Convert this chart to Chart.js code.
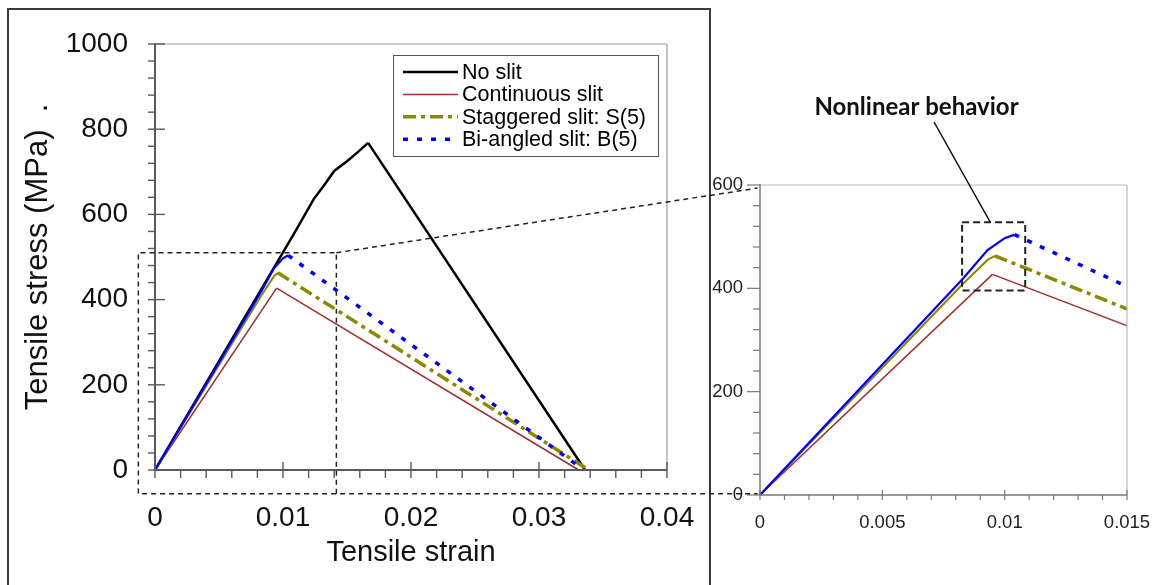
<!DOCTYPE html>
<html><head><meta charset="utf-8">
<script src="https://cdn.jsdelivr.net/npm/chart.js@4.4.1/dist/chart.umd.min.js"></script>
<style>
html,body{margin:0;padding:0;background:#fff;}
#wrap{position:relative;width:1161px;height:585px;overflow:hidden;background:#fff;}
#wrap canvas{position:absolute;}
</style></head><body>
<div id="wrap">
<canvas id="main" width="710" height="585" style="left:0;top:0"></canvas>
<canvas id="inset" width="461" height="435" style="left:700px;top:150px"></canvas>
<canvas id="overlay" width="1161" height="585" style="left:0;top:0"></canvas>
</div>
<script>
// ---------- data ----------
const seriesNames = ['No slit', 'Continuous slit', 'Staggered slit: S(5)', 'Bi-angled slit: B(5)'];
const strainNoSlit = [0, 0.0100, 0.0111, 0.0124, 0.0132, 0.0140, 0.0150, 0.0158, 0.01665, 0.0336];
const stressNoSlit = [0, 511, 567, 636, 668, 702, 725, 745, 768, 0];
const strainContinuous = [0, 0.0095, 0.0331];
const stressContinuous = [0, 427, 0];
const strainStaggered = [0, 0.0083, 0.0093, 0.0096, 0.0339];
const stressStaggered = [0, 409, 455, 463, 0];
const strainBiAngled = [0, 0.0083, 0.0093, 0.0100, 0.0104, 0.0335];
const stressBiAngled = [0, 419, 474, 497, 504, 0];

const mainXTicks = ['0', '0.01', '0.02', '0.03', '0.04'];
const mainYTicks = ['0', '200', '400', '600', '800', '1000'];
const insetXTicks = ['0', '0.005', '0.01', '0.015'];
const insetYTicks = ['0', '200', '400', '600'];

const xTitle = 'Tensile strain';
const yTitle = 'Tensile stress (MPa)  .';
const noteText = 'Nonlinear behavior';

// zoom region drawn on the main chart (data units) and highlighted region in the inset
const zoomStrain = [-0.0013, 0.01417];
const zoomStress = [-56, 510];
const noteStrain = [0.00826, 0.01084];
const noteStress = [396, 528];

// ---------- helpers ----------
const FONT = "'Liberation Sans', Arial, sans-serif";
const toPts = (xs, ys) => xs.map((x, i) => ({x: x, y: ys[i]}));
const labelFrom = (labels) => (v) => {
  const hit = labels.find(l => Math.abs(Number(l) - v) < 1e-9);
  return hit === undefined ? '' : hit;
};
const colors = ['#000000', '#a62c2c', '#8a8a00', '#0000ff'];
const dashes = [[], [], [13, 5, 4, 5], [5, 9]];

function makeDatasets(showNoSlit) {
  const pairs = [[strainNoSlit, stressNoSlit], [strainContinuous, stressContinuous],
                 [strainStaggered, stressStaggered], [strainBiAngled, stressBiAngled]];
  const widths = [[2.5, 2.5], [1.5, 1.5], [2, 3.5], [2.2, 3.5]];
  const orders = [3, 2, 1, 0];
  return pairs.map((p, i) => ({
    label: seriesNames[i],
    data: toPts(p[0], p[1]),
    hidden: i === 0 && !showNoSlit,
    borderColor: colors[i],
    backgroundColor: colors[i],
    borderWidth: widths[i][0],
    pointRadius: 0,
    tension: 0,
    order: orders[i],
    clip: {left: 6, top: 6, right: 0, bottom: 6},
    legendDash: dashes[i],
    legendWidth: widths[i][1],
    segment: {
      borderDash: c => (c.p1.parsed.y < c.p0.parsed.y ? dashes[i] : undefined),
      borderWidth: c => (c.p1.parsed.y < c.p0.parsed.y ? widths[i][1] : undefined)
    }
  }));
}

function line(ctx, x1, y1, x2, y2) {
  ctx.beginPath(); ctx.moveTo(x1, y1); ctx.lineTo(x2, y2); ctx.stroke();
}

// fixed axis sizes, no extra label overhang padding
const fixX = h => s => { s.height = h; s.paddingLeft = 0; s.paddingRight = 0; };
const fixY = w => s => { s.width = w; };

// frame, axes and major/minor tick marks
const frameTicks = {
  id: 'frameTicks',
  afterDraw(chart, args, o) {
    const {ctx, chartArea: a, scales: {x, y}} = chart;
    ctx.save();
    ctx.lineCap = 'butt';
    ctx.strokeStyle = o.borderColor; ctx.lineWidth = o.borderWidth;
    line(ctx, a.left, a.top, a.right, a.top);
    line(ctx, a.right, a.top, a.right, a.bottom);
    ctx.strokeStyle = o.axisColor; ctx.lineWidth = o.axisWidth;
    line(ctx, a.left, a.top - 1, a.left, a.bottom);
    line(ctx, a.left, a.bottom, a.right, a.bottom);
    ctx.lineWidth = o.tickWidth;
    const ny = Math.round((y.max - y.min) / o.yMinor);
    for (let i = 0; i <= ny; i++) {
      const p = y.getPixelForValue(y.min + i * o.yMinor);
      const major = i % o.perMajor === 0;
      const out = major ? o.yMajorOut : o.yMinorOut;
      const inn = major ? o.yMajorIn : 0;
      line(ctx, a.left - out, p, a.left + inn, p);
    }
    const nx = Math.round((x.max - x.min) / o.xMinor);
    for (let i = 0; i <= nx; i++) {
      const p = x.getPixelForValue(x.min + i * o.xMinor);
      const major = i % o.perMajor === 0;
      const out = major ? o.xMajorOut : o.xMinorOut;
      const inn = major ? o.xMajorIn : 0;
      line(ctx, p, a.bottom + out, p, a.bottom - inn);
    }
    ctx.restore();
  }
};

// legend box drawn inside the main chart
const boxLegend = {
  id: 'boxLegend',
  afterDraw(chart, args, o) {
    if (!o.show) return;
    const ctx = chart.ctx;
    ctx.save();
    ctx.fillStyle = '#fff';
    ctx.fillRect(o.x, o.y, o.w, o.h);
    ctx.strokeStyle = '#555'; ctx.lineWidth = 1;
    ctx.strokeRect(o.x + 0.5, o.y + 0.5, o.w, o.h);
    ctx.font = o.font; ctx.textBaseline = 'middle'; ctx.textAlign = 'left';
    chart.data.datasets.forEach((ds, i) => {
      const cy = o.firstRow + i * o.rowGap;
      ctx.strokeStyle = ds.borderColor;
      ctx.lineWidth = ds.legendWidth;
      ctx.setLineDash(ds.legendDash);
      line(ctx, o.sampleX0, cy, o.sampleX1, cy);
      ctx.setLineDash([]);
      ctx.fillStyle = '#000';
      ctx.fillText(ds.label, o.textX, cy + 1);
    });
    ctx.restore();
  }
};

Chart.register(frameTicks, boxLegend);

// ---------- main chart ----------
const mainChart = new Chart(document.getElementById('main'), {
  type: 'line',
  data: {datasets: makeDatasets(true)},
  options: {
    responsive: false, animation: false, events: [],
    layout: {padding: {left: 0, top: 44, right: 43, bottom: 0}},
    plugins: {
      legend: {display: false}, tooltip: {enabled: false},
      frameTicks: {borderColor: '#9a9a9a', borderWidth: 1.2, axisColor: '#5a5a5a', axisWidth: 2, tickWidth: 1.4,
        yMinor: 40, xMinor: 0.002, perMajor: 5,
        yMajorOut: 7, yMajorIn: 10, yMinorOut: 7, xMajorOut: 8, xMajorIn: 8, xMinorOut: 8},
      boxLegend: {show: true, x: 393, y: 55, w: 265, h: 101, firstRow: 72, rowGap: 22.4,
        sampleX0: 403, sampleX1: 458, textX: 462, font: "21.5px " + FONT}
    },
    scales: {
      x: {
        type: 'linear', min: 0, max: 0.04,
        afterFit: fixX(115),
        grid: {display: false, drawTicks: false}, border: {display: false},
        ticks: {stepSize: 0.01, padding: 31, color: '#111', font: {family: FONT, size: 28},
          maxRotation: 0, autoSkip: false, callback: labelFrom(mainXTicks)},
        title: {display: true, text: xTitle, color: '#111', font: {family: FONT, size: 29},
          padding: {top: 0, bottom: 15}}
      },
      y: {
        type: 'linear', min: 0, max: 1000,
        afterFit: fixY(155),
        grid: {display: false, drawTicks: false}, border: {display: false},
        ticks: {stepSize: 200, padding: 27, color: '#111', font: {family: FONT, size: 28},
          autoSkip: false, callback: labelFrom(mainYTicks)},
        title: {display: true, text: yTitle, color: '#111', font: {family: FONT, size: 31},
          padding: {top: 20, bottom: 0}}
      }
    }
  }
});

// ---------- inset chart ----------
const insetChart = new Chart(document.getElementById('inset'), {
  type: 'line',
  data: {datasets: makeDatasets(false)},
  options: {
    responsive: false, animation: false, events: [],
    layout: {padding: {left: 0, top: 35, right: 34, bottom: 0}},
    plugins: {
      legend: {display: false}, tooltip: {enabled: false},
      frameTicks: {borderColor: '#b8b8b8', borderWidth: 1.2, axisColor: '#777', axisWidth: 1.5, tickWidth: 1.2,
        yMinor: 40, xMinor: 0.001, perMajor: 5,
        yMajorOut: 13, yMajorIn: 0, yMinorOut: 7, xMajorOut: 5, xMajorIn: 5, xMinorOut: 5},
      boxLegend: {show: false}
    },
    scales: {
      x: {
        type: 'linear', min: 0, max: 0.015,
        afterFit: fixX(90),
        grid: {display: false, drawTicks: false}, border: {display: false},
        ticks: {stepSize: 0.005, padding: 17, color: '#222', font: {family: FONT, size: 18.5},
          maxRotation: 0, autoSkip: false, callback: labelFrom(insetXTicks)},
        title: {display: false}
      },
      y: {
        type: 'linear', min: 0, max: 600,
        afterFit: fixY(60),
        grid: {display: false, drawTicks: false}, border: {display: false},
        ticks: {stepSize: 200, padding: 17, color: '#222', font: {family: FONT, size: 18.5},
          autoSkip: false, callback: labelFrom(insetYTicks)},
        title: {display: false}
      }
    }
  }
});

// ---------- overlay: outer frame, zoom box, connectors, annotation ----------
(function drawOverlay() {
  const cv = document.getElementById('overlay');
  const ctx = cv.getContext('2d');
  const mOff = {x: 0, y: 0}, iOff = {x: 700, y: 150};
  const mx = v => mainChart.scales.x.getPixelForValue(v) + mOff.x;
  const my = v => mainChart.scales.y.getPixelForValue(v) + mOff.y;
  const ix = v => insetChart.scales.x.getPixelForValue(v) + iOff.x;
  const iy = v => insetChart.scales.y.getPixelForValue(v) + iOff.y;

  // outer frame around the main figure
  ctx.strokeStyle = '#3a3a3a'; ctx.lineWidth = 2;
  ctx.beginPath();
  ctx.moveTo(8, 590); ctx.lineTo(8, 9); ctx.lineTo(710, 9); ctx.lineTo(710, 590);
  ctx.stroke();

  // dashed zoom rectangle + connectors
  ctx.strokeStyle = '#222'; ctx.lineWidth = 1.5; ctx.setLineDash([5, 4]);
  const L = mx(zoomStrain[0]), R = mx(zoomStrain[1]), T = my(zoomStress[1]), B = my(zoomStress[0]);
  const endX = ix(-0.0001);
  ctx.beginPath();
  ctx.moveTo(R, B); ctx.lineTo(R, T); ctx.lineTo(L, T); ctx.lineTo(L, B); ctx.lineTo(endX, B);
  ctx.stroke();
  ctx.beginPath();
  ctx.moveTo(R, T); ctx.lineTo(endX, iy(594));
  ctx.stroke();

  // highlighted nonlinear region in inset
  ctx.lineWidth = 2; ctx.setLineDash([7, 4]);
  const nl = ix(noteStrain[0]), nr = ix(noteStrain[1]), nt = iy(noteStress[1]), nb = iy(noteStress[0]);
  ctx.strokeRect(nl, nt, nr - nl, nb - nt);
  ctx.setLineDash([]);

  // leader line + note
  ctx.strokeStyle = '#111'; ctx.lineWidth = 1.5;
  line(ctx, 934, 122, ix(0.00941), nt);
  ctx.fillStyle = '#111';
  ctx.font = "bold 24px Lato, 'Liberation Sans', sans-serif";
  ctx.textAlign = 'center'; ctx.textBaseline = 'alphabetic';
  ctx.fillText(noteText, 916.5, 115);
})();
</script>
</body></html>
